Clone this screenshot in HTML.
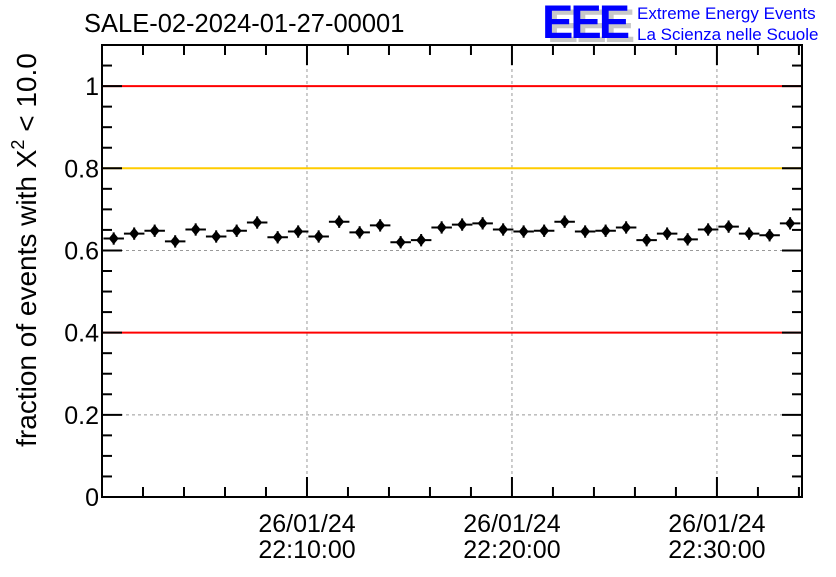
<!DOCTYPE html>
<html><head><meta charset="utf-8"><style>
body{margin:0;background:#fff;}
svg text{font-family:"Liberation Sans",sans-serif;}
</style></head><body>
<svg id="c" width="836" height="572" xmlns="http://www.w3.org/2000/svg">
<rect width="836" height="572" fill="#fff"/>
<text x="84" y="32" font-size="25.5">SALE-02-2024-01-27-00001</text>
<g>
<text x="547" y="42" font-size="47" font-weight="bold" fill="#c8c8c8" letter-spacing="-3">EEE</text>
<text x="542" y="38" font-size="47" font-weight="bold" fill="#0000ff" letter-spacing="-3">EEE</text>
<text x="637" y="19" font-size="17" fill="#0000ff">Extreme Energy Events</text>
<text x="637" y="40" font-size="17" fill="#0000ff">La Scienza nelle Scuole</text>
</g>
<text transform="translate(36,250) rotate(-90)" text-anchor="middle" font-size="28">fraction of events with X<tspan dy="-12" font-size="18">2</tspan><tspan dy="12"> &lt; 10.0</tspan></text>
<g id="plot"></g>
</svg>
<script>
const values=[0.629,0.641,0.648,0.622,0.651,0.634,0.648,0.668,0.632,0.646,0.634,0.670,0.644,0.661,0.620,0.625,0.656,0.663,0.666,0.651,0.646,0.648,0.670,0.646,0.648,0.656,0.625,0.641,0.627,0.651,0.658,0.641,0.637,0.666];
const errors=[0.015,0.015,0.015,0.015,0.015,0.015,0.015,0.015,0.015,0.015,0.015,0.015,0.015,0.015,0.015,0.015,0.015,0.015,0.015,0.015,0.015,0.015,0.015,0.015,0.015,0.015,0.015,0.015,0.015,0.015,0.015,0.015,0.015,0.015];
const yTicks=[0,0.2,0.4,0.6,0.8,1];
const yTickLabels=["0","0.2","0.4","0.6","0.8","1"];
const xTicks=[10,20,30];
const xTickLabels=[["26/01/24","22:10:00"],["26/01/24","22:20:00"],["26/01/24","22:30:00"]];
const refLines=[[1,"#ff0000"],[0.8,"#ffcc00"],[0.4,"#ff0000"]];
const L=102,R=802,T=45,B=497,xMin=0,xMax=34.15,yMin=0,yMax=1.1;
const X=t=>L+(t-xMin)/(xMax-xMin)*(R-L);
const Y=v=>B-(v-yMin)/(yMax-yMin)*(B-T);
const g=document.getElementById('plot');
const NS='http://www.w3.org/2000/svg';
function el(tag,attrs,parent){const e=document.createElementNS(NS,tag);for(const k in attrs)e.setAttribute(k,attrs[k]);(parent||g).appendChild(e);return e;}
yTicks.forEach(v=>{if(v>0&&v<1){const l=el('line',{x1:L,x2:R,y1:Y(v),y2:Y(v),stroke:'#999','stroke-dasharray':'3,3'});

}});
xTicks.forEach(t=>{const l=el('line',{x1:X(t),x2:X(t),y1:T,y2:B,stroke:'#999','stroke-dasharray':'3,3'});

});
refLines.forEach(r=>{const l=el('line',{x1:L,x2:R,y1:Y(r[0]),y2:Y(r[0]),stroke:r[1],'stroke-width':2});

});
const fr=el('rect',{x:L,y:T,width:R-L,height:B-T,fill:'none',stroke:'#000','stroke-width':2});


for(let v=0;v<=1.1001;v+=0.05){const major=Math.abs(v/0.2-Math.round(v/0.2))<1e-6;const len=major?20:10;
el('line',{x1:L,x2:L+len,y1:Y(v),y2:Y(v),stroke:'#000','stroke-width':2});
el('line',{x1:R,x2:R-len,y1:Y(v),y2:Y(v),stroke:'#000','stroke-width':2});}
yTicks.forEach((v,i)=>{const t=el('text',{x:L-3,y:Y(v)+9,'text-anchor':'end','font-size':25});t.textContent=yTickLabels[i];

});
for(let t=0;t<=34;t+=2){const major=t%10===0;const len=major?20:10;
el('line',{x1:X(t),x2:X(t),y1:B,y2:B-len,stroke:'#000','stroke-width':2});
el('line',{x1:X(t),x2:X(t),y1:T,y2:T+len,stroke:'#000','stroke-width':2});}
xTicks.forEach((t,i)=>{xTickLabels[i].forEach((s,j)=>{const tx=el('text',{x:X(t),y:532+j*26,'text-anchor':'middle','font-size':25});tx.textContent=s;

});});
values.forEach((v,i)=>{const t=i+0.57;const gp=el('g',{});


el('line',{x1:X(t-0.5),x2:X(t+0.5),y1:Y(v),y2:Y(v),stroke:'#000','stroke-width':2},gp);
el('line',{x1:X(t),x2:X(t),y1:Y(v-errors[i]),y2:Y(v+errors[i]),stroke:'#000','stroke-width':2},gp);
const cx=X(t),cy=Y(v);
el('polygon',{points:`${cx},${cy-6} ${cx+5},${cy} ${cx},${cy+6} ${cx-5},${cy}`,fill:'#000'},gp);});
</script>
</body></html>
